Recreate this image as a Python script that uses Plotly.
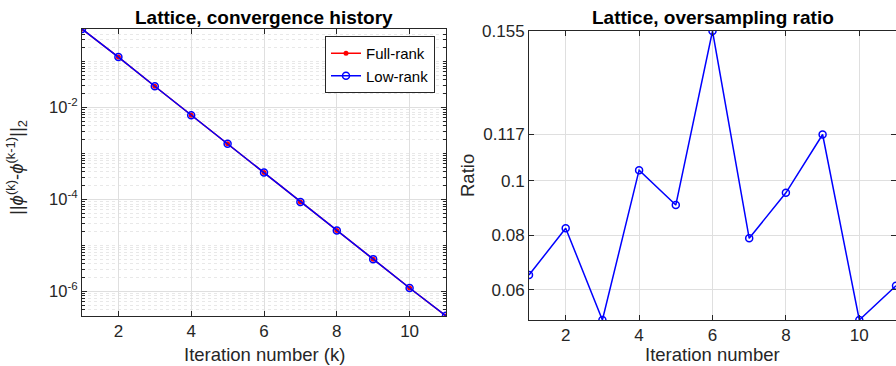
import numpy as np
import plotly.graph_objects as go

# ---- data ----
iters = list(range(1, 12))
full_rank = [0.514, 0.126, 0.0292, 0.00684, 0.00163, 3.86e-4, 8.9e-5, 2.12e-5, 5.06e-6, 1.19e-6, 2.93e-7]
low_rank = [0.514, 0.126, 0.0292, 0.00684, 0.00163, 3.86e-4, 8.9e-5, 2.12e-5, 5.06e-6, 1.19e-6, 2.95e-7]
ratio = [0.0654, 0.0826, 0.0489, 0.1039, 0.0911, 0.155, 0.0789, 0.0956, 0.117, 0.0489, 0.0615]

x_ticks = [2, 4, 6, 8, 10]
log_ticks = [1e-6, 1e-4, 1e-2]
log_tick_text = ["10<sup>-6</sup>", "10<sup>-4</sup>", "10<sup>-2</sup>"]
ratio_ticks = [0.06, 0.08, 0.1, 0.117, 0.155]
ratio_tick_text = ["0.06", "0.08", "0.1", "0.117", "0.155"]

W, H = 896, 366
FONT = "Liberation Sans, Arial, Helvetica, sans-serif"
AX = "#262626"
GRID = "#dfdfdf"

minor_vals = [k * 10.0 ** n for n in range(-8, 1) for k in range(1, 10)]

fig = go.Figure()
fig.add_trace(go.Scatter(x=iters, y=full_rank, name="Full-rank", mode="lines+markers",
                         line=dict(color="#ff0000", width=1.5),
                         marker=dict(symbol="circle", size=5, color="#ff0000"),
                         xaxis="x", yaxis="y"))
fig.add_trace(go.Scatter(x=iters, y=low_rank, name="Low-rank", mode="lines+markers",
                         line=dict(color="#0000ff", width=1.5),
                         marker=dict(symbol="circle-open", size=7, color="#0000ff",
                                     line=dict(width=1.5, color="#0000ff")),
                         xaxis="x", yaxis="y"))
fig.add_trace(go.Scatter(x=iters, y=ratio, name="ratio", mode="lines+markers", showlegend=False,
                         line=dict(color="#0000ff", width=1.5),
                         marker=dict(symbol="circle-open", size=7, color="#0000ff",
                                     line=dict(width=1.5, color="#0000ff")),
                         xaxis="x2", yaxis="y2"))

common_x = dict(range=[min(iters), max(iters)], tickmode="array", tickvals=x_ticks,
                showline=True, linecolor=AX, linewidth=1, mirror="ticks",
                ticks="inside", ticklen=5, tickcolor=AX, automargin=False,
                showgrid=True, gridcolor=GRID, gridwidth=1, zeroline=False,
                tickfont=dict(family=FONT, size=17, color=AX))

lo = min(min(full_rank), min(low_rank))
hi = max(max(full_rank), max(low_rank))

fig.update_layout(
    width=W, height=H,
    margin=dict(l=0, r=0, t=0, b=0, autoexpand=False),
    paper_bgcolor="white", plot_bgcolor="white",
    font=dict(family=FONT, color=AX),
    xaxis=dict(domain=[82 / W, 446 / W], anchor="y", **common_x),
    yaxis=dict(domain=[50 / H, 337 / H], anchor="x", type="log",
               range=[np.log10(lo), np.log10(hi)],
               tickmode="array", tickvals=log_ticks, ticktext=log_tick_text,
               showline=True, linecolor=AX, linewidth=1, mirror="ticks",
               ticks="inside", ticklen=5, tickcolor=AX, automargin=False,
               showgrid=True, gridcolor=GRID, zeroline=False,
               tickfont=dict(family=FONT, size=16.5, color=AX),
               minor=dict(tickmode="array", tickvals=minor_vals, ticks="inside", ticklen=3,
                          tickcolor=AX, showgrid=True, gridcolor="#e8e8e8", griddash="dot",
                          gridwidth=1)),
    xaxis2=dict(domain=[529 / W, 1.0], anchor="y2", **common_x),
    yaxis2=dict(domain=[46 / H, 335 / H], anchor="x2",
                range=[min(ratio), max(ratio)],
                tickmode="array", tickvals=ratio_ticks, ticktext=ratio_tick_text,
                showline=True, linecolor=AX, linewidth=1, mirror="ticks",
                ticks="inside", ticklen=5, tickcolor=AX, automargin=False,
                showgrid=True, gridcolor=GRID, zeroline=False,
                tickfont=dict(family=FONT, size=17, color=AX)),
    legend=dict(x=435 / W, xanchor="right", y=(H - 36) / H, yanchor="top",
                bgcolor="white", bordercolor=AX, borderwidth=1,
                font=dict(family=FONT, size=15, color="black"),
                itemwidth=30, tracegroupgap=0),
    showlegend=True,
)

ann = [
    dict(text="<b>Lattice, convergence history</b>", x=264 / W, y=(H - 17) / H,
         font=dict(size=19, color="black")),
    dict(text="<b>Lattice, oversampling ratio</b>", x=712.5 / W, y=(H - 17) / H,
         font=dict(size=19, color="black")),
    dict(text="Iteration number (k)", x=264 / W, y=(H - 354) / H, font=dict(size=18.5, color=AX)),
    dict(text="Iteration number", x=712.5 / W, y=(H - 354) / H, font=dict(size=18.5, color=AX)),
    dict(text="||<i>ϕ</i><sup>(k)</sup>-<i>ϕ</i><sup>(k-1)</sup>||<sub>2</sub>", x=17 / W, y=(H - 168) / H,
         textangle=-90, font=dict(size=18.5, color=AX)),
    dict(text="Ratio", x=467 / W, y=(H - 175) / H, textangle=-90, font=dict(size=18.5, color=AX)),
]
for a in ann:
    a.update(xref="paper", yref="paper", showarrow=False, xanchor="center", yanchor="middle")
    a["font"]["family"] = FONT
fig.update_layout(annotations=ann)

post = ("document.body.style.margin='0';"
        "var d=document.getElementById('{plot_id}');"
        "d.style.position='fixed';d.style.left='0px';d.style.top='0px';")
fig.write_html("out.html", post_script=post, config={"displayModeBar": False})
